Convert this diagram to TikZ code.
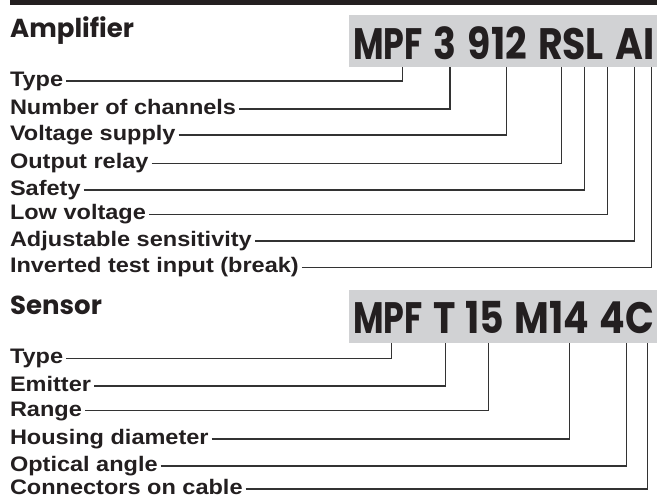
\documentclass[tikz,border=0pt]{standalone}
\usepackage{fontspec}
\usepackage{graphicx}
\setmainfont{Liberation Sans}
\newfontfamily\lblfont{Liberation Sans}[FakeStretch=1.12]
\newfontfamily\headfont{Poppins}
\newfontfamily\codefont{Poppins}[FakeStretch=0.86]
\usetikzlibrary{calc}
\definecolor{ink}{HTML}{231F20}
\definecolor{boxgray}{HTML}{D1D2D4}
\definecolor{linegray}{HTML}{333333}
\newcommand{\narrowmpf}{\scalebox{0.88}[1]{MPF}}
\tikzset{
  lbl/.style={anchor=base west, inner xsep=3pt, inner ysep=0pt, outer sep=0pt, font=\lblfont\bfseries\fontsize{21}{23}\selectfont, text=ink},
  head/.style={anchor=base west, inner sep=0pt, font=\headfont\bfseries\fontsize{26}{28}\selectfont, text=ink},
  code/.style={anchor=base west, inner sep=0pt, font=\codefont\bfseries\fontsize{44}{46}\selectfont, text=ink},
  codebox/.style={fill=boxgray, draw=none, inner sep=0pt},
  conn/.style={draw=linegray, line width=1.1pt},
}
\begin{document}
\begin{tikzpicture}[x=1pt,y=1pt]
\useasboundingbox (0,0) rectangle (657,-498);
\fill[ink] (10,0) rectangle (657,-5);
% Amplifier
\node[head] (amph) at (10,-37) {Amplifier};
\node[codebox, minimum width=308pt, minimum height=52pt] (ampbox) at (503,-41) {};
\node[code] (ampcode) at (353,-59) {\makebox[301pt][s]{\narrowmpf{} 3 912 RSL AI}};
\foreach \n/\x in {1/402.7,2/450,3/506.7,4/561.7,5/584.3,6/607.3,7/634.3,8/651.7}
  \coordinate (ac\n) at (\x,-67);
\node[lbl] (a1) at (7,-86.5) {Type};
\node[lbl] (a2) at (7,-114.5) {Number of channels};
\node[lbl] (a3) at (7,-140.5) {Voltage supply};
\node[lbl] (a4) at (7,-168.8) {Output relay};
\node[lbl] (a5) at (7,-195.5) {Safety};
\node[lbl] (a6) at (7,-219.8) {Low voltage};
\node[lbl] (a7) at (7,-246.5) {Adjustable sensitivity};
\node[lbl] (a8) at (7,-272.8) {Inverted test input (break)};
\foreach \n in {1,...,8}
  \draw[conn] ([yshift=5.5pt]a\n.base east) -| (ac\n);
% Sensor
\node[head] (senh) at (10,-314) {Sensor};
\node[codebox, minimum width=308pt, minimum height=53pt] (senbox) at (503,-316.5) {};
\node[code] (sencode) at (353,-333) {\makebox[301pt][s]{\narrowmpf{} T 15 M14 4C}};
\foreach \n/\x in {1/391.7,2/445.7,3/488.3,4/569.3,5/626.7,6/647.7}
  \coordinate (sc\n) at (\x,-343);
\node[lbl] (s1) at (7,-363.8) {Type};
\node[lbl] (s2) at (7,-391.5) {Emitter};
\node[lbl] (s3) at (7,-416.2) {Range};
\node[lbl] (s4) at (7,-444.5) {Housing diameter};
\node[lbl] (s5) at (7,-471.5) {Optical angle};
\node[lbl] (s6) at (7,-494.5) {Connectors on cable};
\foreach \n in {1,...,6}
  \draw[conn] ([yshift=5.5pt]s\n.base east) -| (sc\n);
\end{tikzpicture}
\end{document}
